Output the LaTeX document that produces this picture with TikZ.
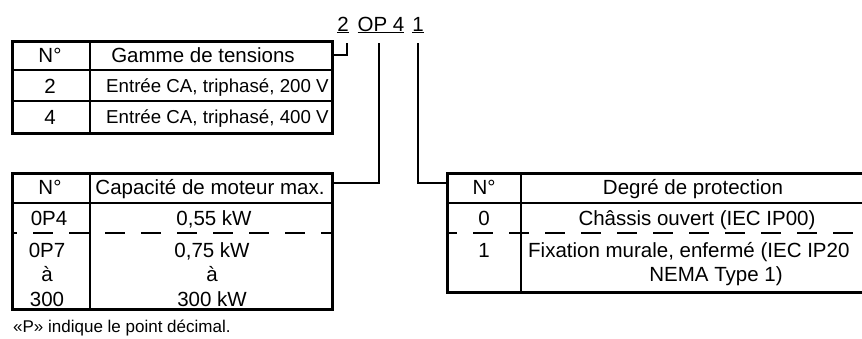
\documentclass[tikz,border=0pt]{standalone}
\usepackage{fontspec}
\setmainfont{Liberation Sans}
\usetikzlibrary{positioning, calc}

\begin{document}
\begin{tikzpicture}[
    x=1pt, y=-1pt,
    txt/.style={font=\fontsize{20.5}{24.5}\selectfont, inner sep=0pt, anchor=base, align=center},
    entry/.style={font=\fontsize{18.7}{22}\selectfont, inner sep=0pt, anchor=base west},
    tabbox/.style={draw=black, line width=2.6pt, inner sep=0pt, anchor=north west},
    cellline/.style={line width=2.6pt},
    dashline/.style={line width=2.6pt, dash pattern=on 20pt off 16pt},
    link/.style={line width=2.6pt}
]
\useasboundingbox (0,0) rectangle (862,338);

% Code
\node[txt] (c2) at (343,31) {\underline{2}};
\node[txt] (cop) at (381,31) {\underline{OP 4}};
\node[txt] (c1) at (418,31) {\underline{1}};

% Gamme de tensions
\node[tabbox, minimum width=320pt, minimum height=92pt] (tens) at (11,40) {};
\draw[cellline] (90,40) -- (90,132);
\draw[cellline] (11,70) -- (331,70);
\draw[cellline] (11,101) -- (331,101);
\node[txt] (tensN) at (50,62.5) {N°};
\node[txt] (tensH) at (203,62.5) {Gamme de tensions};
\node[txt] (tens2) at (50,93) {2};
\node[entry] (tens2t) at (106,92.5) {Entrée CA, triphasé, 200 V};
\node[txt] (tens4) at (50,124) {4};
\node[entry] (tens4t) at (106,123) {Entrée CA, triphasé, 400 V};

% Capacite de moteur
\node[tabbox, minimum width=320pt, minimum height=136pt] (moteur) at (11,172) {};
\draw[cellline] (90,172) -- (90,308);
\draw[cellline] (11,203) -- (331,203);
\draw[dashline, dash phase=14pt] (11,233) -- (331,233);
\node[txt] (motN) at (50,194.5) {N°};
\node[txt] (motH) at (210,194.5) {Capacité de moteur max.};
\node[txt] (mot04) at (49,225.5) {0P4};
\node[txt] (mot04t) at (214,225.5) {0,55 kW};
\node[txt] (mot07) at (47,306) {0P7\\à\\300};
\node[txt] (mot07t) at (212,306) {0,75 kW\\à\\300 kW};

% Degre de protection
\node[tabbox, minimum width=420pt, minimum height=119pt] (prot) at (446,172) {};
\draw[cellline] (521,172) -- (521,291);
\draw[cellline] (446,203) -- (866,203);
\draw[dashline, dash phase=9pt] (446,233) -- (866,233);
\node[txt] (protN) at (484,194.5) {N°};
\node[txt] (protH) at (693,194.5) {Degré de protection};
\node[txt] (prot0) at (484,225.5) {0};
\node[txt] (prot0t) at (697,225.5) {Châssis ouvert (IEC IP00)};
\node[txt] (prot1) at (484,257) {1};
\node[txt, anchor=base west] (fix1) at (528,257) {Fixation murale, enfermé (IEC IP20};
\node[txt] (fix2) at (716,281) {NEMA Type 1)};

% Renvois
\coordinate (k2) at (347,43);
\coordinate (kop) at (379,43);
\coordinate (k1) at (418,43);
\draw[link] (k2) |- ($(tens.north east)+(0,15)$);
\draw[link] (kop) |- ($(moteur.north east)+(0,11)$);
\draw[link] (k1) |- ($(prot.north west)+(0,11)$);

% Note
\node[entry, font=\fontsize{17}{20}\selectfont] (note) at (13,332) {«P» indique le point décimal.};

\end{tikzpicture}
\end{document}
